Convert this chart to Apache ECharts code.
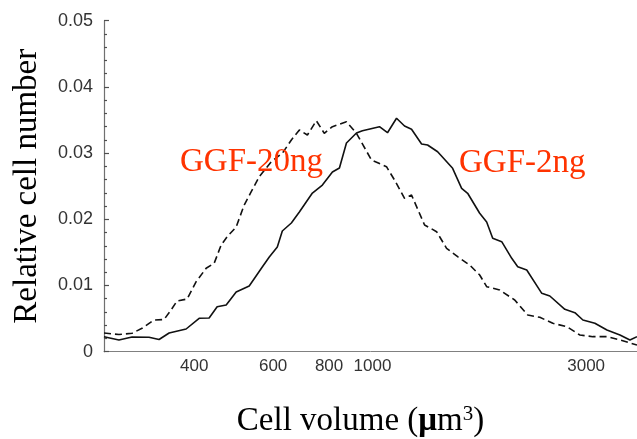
<!DOCTYPE html>
<html>
<head>
<meta charset="utf-8">
<script src="https://cdn.jsdelivr.net/npm/echarts@6/dist/echarts.min.js"></script>
<style>
html,body{margin:0;padding:0;background:#fff;}
#chart{width:637px;height:439px;}
</style>
</head>
<body>
<div id="chart"></div>
<script>
// Cell volume (µm^3) and relative cell number, GGF-2ng (solid)
var volume2ng = [251.5,271.6,290.5,317.0,333.8,351.5,383.6,410.2,431.8,450.0,471.4,496.2,530.6,567.5,588.3,613.1,629.1,659.0,686.7,734.3,773.0,813.9,843.8,874.8,921.0,949.7,1036.7,1080.3,1131.7,1179.3,1222.5,1287.3,1327.6,1398.0,1510.1,1581.7,1631.3,1735.5,1798.9,1855.6,1943.5,2046.4,2110.5,2210.5,2388.3,2489.1,2688.9,2831.2,2950.4,3137.9,3338.4,3569.6,3757.6,3896.7];
var count2ng = [0.00227,0.00177,0.00222,0.00218,0.00184,0.00282,0.00343,0.00505,0.00509,0.00680,0.00705,0.00902,0.00992,0.01279,0.01431,0.01582,0.01823,0.01944,0.02110,0.02397,0.02518,0.02715,0.02775,0.03153,0.03304,0.03338,0.03399,0.03308,0.03526,0.03409,0.03360,0.03137,0.03122,0.03021,0.02770,0.02468,0.02393,0.02091,0.01959,0.01713,0.01662,0.01411,0.01284,0.01234,0.00882,0.00841,0.00640,0.00589,0.00479,0.00429,0.00328,0.00252,0.00177,0.00227];

// GGF-20ng (dashed)
var volume20ng = [251.5,271.6,290.5,305.8,325.3,342.5,355.0,366.2,385.6,403.9,425.2,443.1,459.4,473.8,496.2,517.1,536.2,558.8,594.3,629.1,659.0,686.7,715.6,749.4,780.6,813.9,874.8,921.0,994.9,1074.8,1120.0,1179.3,1222.5,1307.3,1390.7,1463.8,1549.6,1648.2,1735.5,1798.9,1923.5,2078.1,2222.3,2363.7,2527.8,2716.4,2905.3,3106.3,3338.4,3569.6,3896.7];
var count20ng = [0.00282,0.00260,0.00278,0.00353,0.00479,0.00486,0.00630,0.00766,0.00796,0.01057,0.01260,0.01335,0.01612,0.01737,0.01884,0.02216,0.02417,0.02644,0.02870,0.02997,0.03198,0.03349,0.03273,0.03489,0.03299,0.03399,0.03474,0.03299,0.02896,0.02795,0.02594,0.02317,0.02367,0.01914,0.01813,0.01562,0.01435,0.01310,0.01159,0.00982,0.00932,0.00781,0.00554,0.00520,0.00429,0.00378,0.00252,0.00227,0.00227,0.00177,0.00101];

var xTicks = [400, 600, 800, 1000, 3000];
var xMin = 251.5, xMax = 3896.7;
var seriesNames = ['GGF-2ng', 'GGF-20ng'];

function pairs(xs, ys){ return xs.map(function(x,i){ return [x, ys[i]]; }); }

var chart = echarts.init(document.getElementById('chart'), null, {renderer:'canvas'});
var sansFont = '"Liberation Sans", Arial, Helvetica, sans-serif';
var serifFont = '"Liberation Serif", "Times New Roman", serif';

chart.setOption({
  backgroundColor: '#ffffff',
  animation: false,
  grid: {left: 104, right: 0, top: 20.7, bottom: 87.3, containLabel: false, outerBoundsMode: 'none'},
  xAxis: {
    type: 'log',
    min: xMin,
    max: xMax,
    axisLine: {show: true, lineStyle: {color: '#808080', width: 1}},
    axisTick: {show: false},
    splitLine: {show: false},
    minorTick: {show: false},
    axisLabel: {
      customValues: xTicks,
      color: '#333',
      fontFamily: sansFont,
      fontSize: 17,
      margin: 6,
      formatter: function(v){ return String(Math.round(v)); }
    },
    name: '{a|Cell volume (}{m|μ}{a|m}{s|3}{a|)}',
    nameLocation: 'middle',
    nameGap: 52,
    nameTextStyle: {
      padding: [0, 20, 0, 0],
      rich: {
        a: {fontFamily: serifFont, fontSize: 33, color: '#000'},
        m: {fontFamily: serifFont, fontSize: 33, color: '#000', fontWeight: 'bold'},
        s: {fontFamily: serifFont, fontSize: 21, color: '#000', verticalAlign: 'top', padding: [0,0,14,0]}
      }
    }
  },
  yAxis: {
    type: 'value',
    min: 0,
    max: 0.05,
    interval: 0.01,
    axisLine: {show: true, lineStyle: {color: '#707070', width: 1.2}},
    axisTick: {show: true, inside: true, length: 5, lineStyle: {color: '#505050', width: 1.2}},
    minorTick: {show: true, splitNumber: 5, length: 3, lineStyle: {color: '#505050', width: 1.2}},
    splitLine: {show: false},
    axisLabel: {
      color: '#333',
      fontFamily: sansFont,
      fontSize: 18,
      margin: 11,
      formatter: function(v){ return v === 0 ? '0' : v.toFixed(2); }
    },
    name: 'Relative cell number',
    nameLocation: 'middle',
    nameGap: 60,
    nameTextStyle: {fontFamily: serifFont, fontSize: 33, color: '#000'}
  },
  series: [
    {
      name: seriesNames[0],
      type: 'line',
      data: pairs(volume2ng, count2ng),
      showSymbol: false,
      lineStyle: {color: '#111', width: 1.6, type: 'solid'},
      z: 3
    },
    {
      name: seriesNames[1],
      type: 'line',
      data: pairs(volume20ng, count20ng),
      showSymbol: false,
      lineStyle: {color: '#111', width: 1.6, type: [7, 4]},
      z: 2
    }
  ],
  graphic: [
    {type: 'text', left: 180, top: 146, z: 10,
     style: {text: 'GGF-20ng', fontFamily: serifFont, fontSize: 33, fill: '#ff3300'}},
    {type: 'text', left: 459, top: 147, z: 10,
     style: {text: 'GGF-2ng', fontFamily: serifFont, fontSize: 33, fill: '#ff3300'}}
  ]
});
</script>
</body>
</html>
